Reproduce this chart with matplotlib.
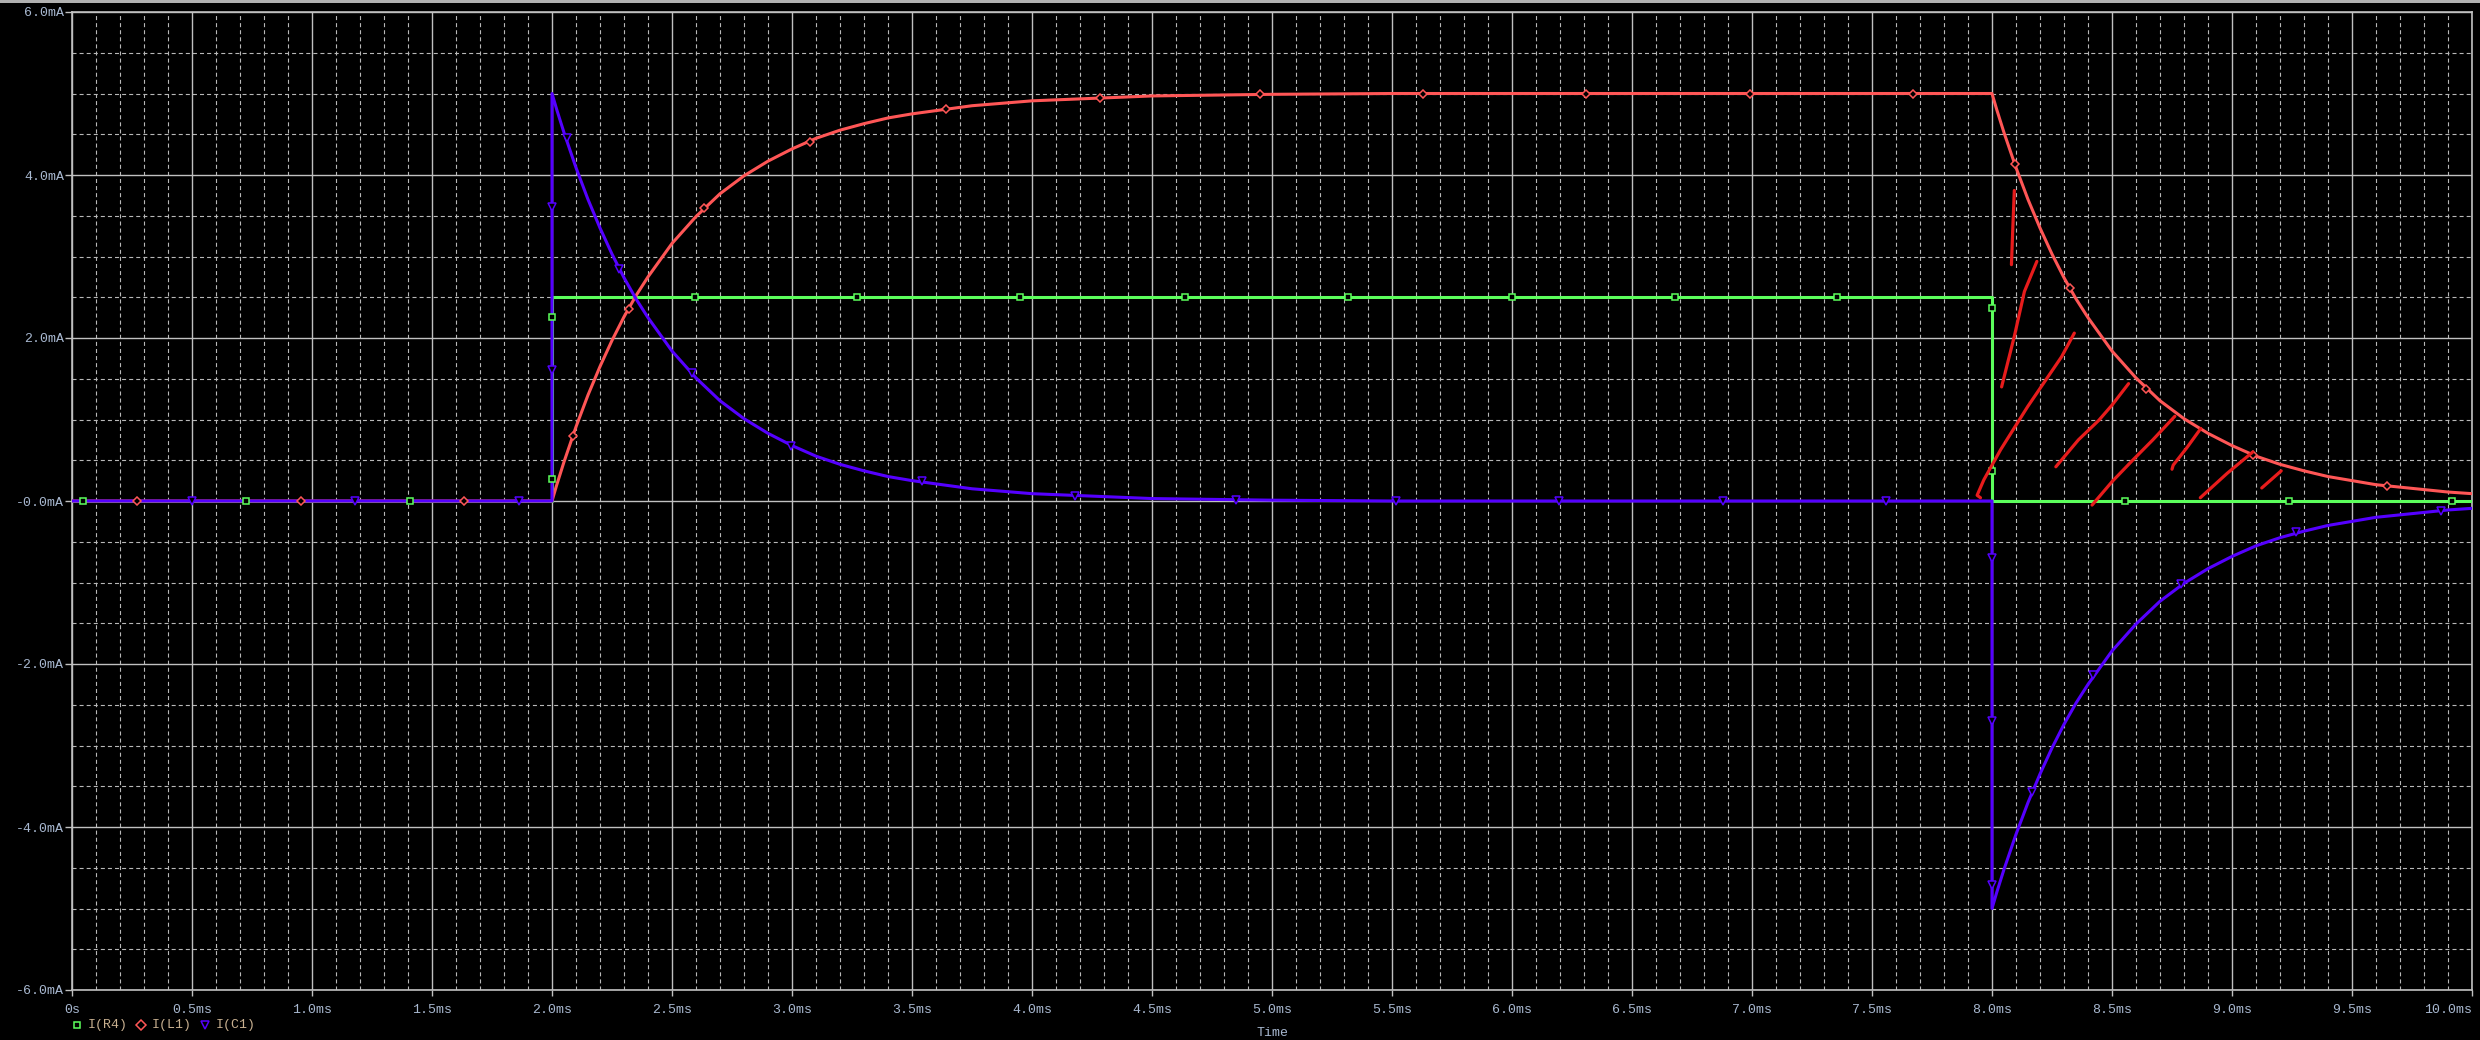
import matplotlib
matplotlib.use("Agg")
import matplotlib.pyplot as plt
from matplotlib.lines import Line2D
from matplotlib.patches import Rectangle
from matplotlib.ticker import MultipleLocator

# Zeitachse in ms, Sprungstellen bei 2 ms und 8 ms doppelt
t_ms = [0.0, 2.0,
        2.0, 2.02, 2.05, 2.1, 2.15, 2.2, 2.25, 2.3, 2.35, 2.4,
        2.5, 2.6, 2.7, 2.8, 2.9, 3.0, 3.1, 3.2, 3.3, 3.4, 3.5,
        3.75, 4.0, 4.25, 4.5, 5.0, 5.5, 6.0, 7.0, 8.0,
        8.0, 8.02, 8.05, 8.1, 8.15, 8.2, 8.25, 8.3, 8.35, 8.4,
        8.5, 8.6, 8.7, 8.8, 8.9, 9.0, 9.1, 9.2, 9.3, 9.4, 9.5,
        9.6, 9.7, 9.8, 9.9, 10.0]

# Ströme in mA
i_r4 = [0.0, 0.0] + [2.5] * 30 + [0.0] * 26

i_l1 = [0.0, 0.0,
        0.0, 0.20, 0.48, 0.91, 1.30, 1.65, 1.97, 2.26, 2.52, 2.75,
        3.16, 3.49, 3.77, 3.99, 4.17, 4.32, 4.45, 4.55, 4.63, 4.70, 4.75,
        4.85, 4.91, 4.94, 4.97, 4.99, 5.0, 5.0, 5.0, 5.0,
        5.0, 4.80, 4.52, 4.09, 3.70, 3.35, 3.03, 2.74, 2.48, 2.25,
        1.84, 1.51, 1.23, 1.01, 0.83, 0.68, 0.55, 0.45, 0.37, 0.30, 0.25,
        0.20, 0.17, 0.14, 0.11, 0.09]

i_c1 = [0.0, 0.0,
        5.0, 4.80, 4.52, 4.09, 3.70, 3.35, 3.03, 2.74, 2.48, 2.25,
        1.84, 1.51, 1.23, 1.01, 0.83, 0.68, 0.55, 0.45, 0.37, 0.30, 0.25,
        0.15, 0.09, 0.06, 0.03, 0.01, 0.0, 0.0, 0.0, 0.0,
        -5.0, -4.80, -4.52, -4.09, -3.70, -3.35, -3.03, -2.74, -2.48, -2.25,
        -1.84, -1.51, -1.23, -1.01, -0.83, -0.68, -0.55, -0.45, -0.37, -0.30, -0.25,
        -0.20, -0.17, -0.14, -0.11, -0.09]

# Markerpositionen (so wie PSpice sie gesetzt hat)
r4_mark_t = [0.045, 0.724, 1.408, 2.0, 2.0, 2.596, 3.272, 3.952, 4.637, 5.318,
             5.998, 6.679, 7.356, 8.0, 8.0, 8.553, 9.238, 9.917]
r4_mark_i = [0, 0, 0, 0.27, 2.26, 2.5, 2.5, 2.5, 2.5, 2.5,
             2.5, 2.5, 2.5, 2.37, 0.37, 0, 0, 0]

l1_mark_t = [0.271, 0.956, 1.635, 2.089, 2.322, 2.635, 3.075, 3.642, 4.283, 4.952,
             5.628, 6.308, 6.99, 7.671, 8.097, 8.325, 8.642, 9.088, 9.646]
l1_mark_i = [0, 0, 0, 0.80, 2.36, 3.59, 4.40, 4.81, 4.95, 4.99,
             5.0, 5.0, 5.0, 5.0, 4.13, 2.61, 1.38, 0.57, 0.18]

c1_mark_t = [0.50, 1.179, 1.862, 2.0, 2.0, 2.061, 2.28, 2.585, 2.996, 3.54,
             4.18, 4.85, 5.517, 6.195, 6.878, 7.559, 8.0, 8.0, 8.0, 8.166,
             8.421, 8.787, 9.266, 9.872]
c1_mark_i = [0, 0, 0, 3.61, 1.61, 4.46, 2.85, 1.57, 0.68, 0.24,
             0.06, 0.01, 0, 0, 0, 0, -0.70, -2.70, -4.71, -3.57,
             -2.13, -1.02, -0.38, -0.12]

# Handgezeichnete rote Striche (Schraffur unter der Abklingkurve)
streak_t = [[8.093, 8.087, 8.081],
            [8.187, 8.135, 8.093, 8.040],
            [8.343, 8.290, 8.149, 8.036, 7.966, 7.938, 7.952],
            [8.569, 8.501, 8.445, 8.360, 8.266],
            [8.762, 8.670, 8.586, 8.501, 8.417],
            [8.870, 8.811, 8.755, 8.750],
            [9.086, 8.980, 8.868],
            [9.205, 9.124]]
streak_i = [[3.81, 3.37, 2.90],
            [2.94, 2.57, 2.02, 1.40],
            [2.06, 1.77, 1.16, 0.63, 0.26, 0.07, 0.04],
            [1.44, 1.18, 0.99, 0.75, 0.42],
            [1.04, 0.75, 0.50, 0.24, -0.05],
            [0.89, 0.65, 0.44, 0.39],
            [0.60, 0.34, 0.04],
            [0.37, 0.16]]

x_ticks = [0.0, 0.5, 1.0, 1.5, 2.0, 2.5, 3.0, 3.5, 4.0, 4.5, 5.0,
           5.5, 6.0, 6.5, 7.0, 7.5, 8.0, 8.5, 9.0, 9.5, 10.0]
x_labels = ["0s", "0.5ms", "1.0ms", "1.5ms", "2.0ms", "2.5ms", "3.0ms", "3.5ms",
            "4.0ms", "4.5ms", "5.0ms", "5.5ms", "6.0ms", "6.5ms", "7.0ms", "7.5ms",
            "8.0ms", "8.5ms", "9.0ms", "9.5ms", "10.0ms"]
y_ticks = [6.0, 4.0, 2.0, 0.0, -2.0, -4.0, -6.0]
y_labels = ["6.0mA", "4.0mA", "2.0mA", "-0.0mA", "-2.0mA", "-4.0mA", "-6.0mA"]

trace_names = ["I(R4)", "I(L1)", "I(C1)"]

GREEN = "#5cff5c"
RED = "#ff5656"
BLUE = "#5500ff"
STREAK = "#e81c1c"
GRID = "#c0c0c0"
TICKTXT = "#a8b8d0"
LEGTXT = "#c8b090"

W, H = 2480, 1040


def fx(px):
    return px / W


def fy(py):
    return 1 - py / H


plt.rcParams["font.family"] = ["Liberation Mono", "DejaVu Sans Mono"]
plt.rcParams["lines.scale_dashes"] = False

fig = plt.figure(figsize=(W / 100, H / 100), dpi=100, facecolor="black")
ax = fig.add_axes([fx(72), fy(990), fx(2472) - fx(72), fy(12) - fy(990)])
ax.set_facecolor("black")

# Linien zuerst, dann alle Marker darüber
ax.plot(t_ms, i_r4, color=GREEN, lw=2.2, zorder=3)
ax.plot(t_ms, i_l1, color=RED, lw=2.2, zorder=3)
ax.plot(t_ms, i_c1, color=BLUE, lw=2.2, zorder=3)

mk = dict(ls="none", mfc="black", mew=1.1, zorder=4)
ax.plot(r4_mark_t, r4_mark_i, marker="s", ms=4.6, mec=GREEN, **mk)
ax.plot(l1_mark_t, l1_mark_i, marker="D", ms=4.2, mec=RED, **mk)
ax.plot(c1_mark_t, c1_mark_i, marker="v", ms=5.5, mec=BLUE, **mk)

for st, si in zip(streak_t, streak_i):
    ax.plot(st, si, color=STREAK, lw=2.3, solid_capstyle="round",
            solid_joinstyle="round", zorder=5)

ax.set_xlim(0, 10)
ax.set_ylim(-6, 6)
ax.set_xticks(x_ticks)
ax.set_xticklabels(x_labels)
ax.set_yticks(y_ticks)
ax.set_yticklabels(y_labels)
ax.xaxis.set_minor_locator(MultipleLocator(0.1))
ax.yaxis.set_minor_locator(MultipleLocator(0.5))
# letzte Beschriftung endet bündig am Achsenende
ax.get_xticklabels()[-1].set_horizontalalignment("right")

ax.set_axisbelow(True)
ax.grid(True, which="major", color=GRID, lw=1.0, ls="-")
ax.grid(True, which="minor", color="#b8b8b8", lw=0.8, ls=(0, (2.9, 2.2)))

ax.tick_params(which="minor", length=0)
ax.tick_params(axis="x", which="major", length=4, width=1, color=GRID,
               colors=TICKTXT, labelsize=9.5, pad=6)
ax.tick_params(axis="y", which="major", length=5, width=1, color=GRID,
               colors=TICKTXT, labelsize=9.5, pad=0.5)
for s in ax.spines.values():
    s.set_color(GRID)
    s.set_linewidth(1.2)

# Legende unten links, wie im PSpice-Fenster
leg_marker = ["s", "D", "v"]
leg_color = [GREEN, RED, BLUE]
leg_x = [77, 141, 205]
for name, m, c, px in zip(trace_names, leg_marker, leg_color, leg_x):
    fig.add_artist(Line2D([fx(px)], [fy(1025)], transform=fig.transFigure,
                          marker=m, ms=4.6 if m != "v" else 5.5, mec=c,
                          mfc="black", mew=1.1, ls="none"))
    fig.text(fx(px + 11), fy(1025), name, color=LEGTXT, fontsize=9.5,
             va="center", ha="left")

# Achsentitel ganz unten in der Mitte
fig.text(fx(1272), fy(1039), "Time", color=TICKTXT, fontsize=9.5,
         ha="center", va="bottom")

# grauer Fensterrand oben
fig.add_artist(Rectangle((0, fy(3)), 1, 3 / H, transform=fig.transFigure,
                         color="#b0b0b0", lw=0))

fig.savefig("out.png", dpi=100, facecolor="black")
